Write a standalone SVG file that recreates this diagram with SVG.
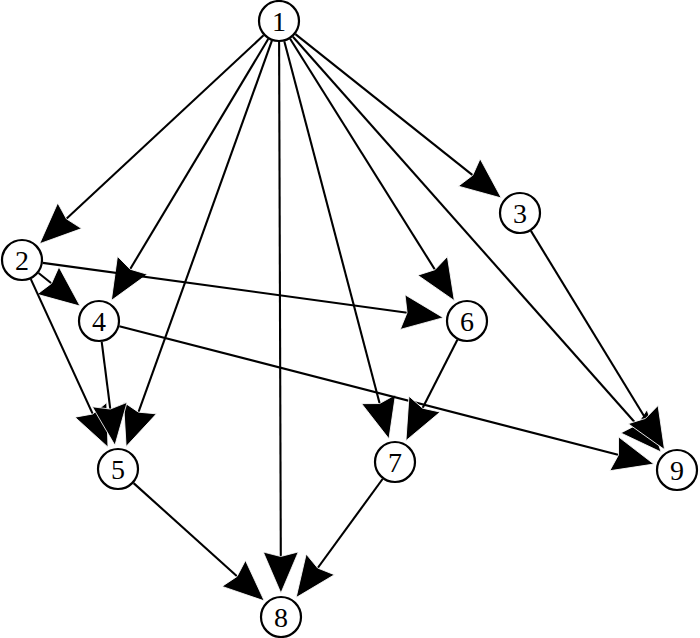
<svg xmlns="http://www.w3.org/2000/svg" width="700" height="638" viewBox="0 0 700 638">
<style>
.edge{stroke:#000;stroke-width:2.1;fill:none;marker-end:url(#ah)}
.node circle{fill:#fff;stroke:#000;stroke-width:2.2}
.node text{font-family:"Liberation Serif","Times New Roman",serif;font-size:28px;text-anchor:middle;fill:#000}
</style>
<defs>
<marker id="ah" markerUnits="userSpaceOnUse" markerWidth="44" markerHeight="40" refX="36" refY="18" orient="auto" overflow="visible">
<path d="M0,0.5 L41,18 L0,35.5 L4.5,18 Z" fill="#000" stroke="#fff" stroke-width="0.8"/>
</marker>
</defs>
<rect width="700" height="638" fill="#fff"/>
<g id="connectors">
<line class="edge" x1="263.6" y1="35.3" x2="43.3" y2="240.3"/>
<line class="edge" x1="268.2" y1="39.0" x2="113.9" y2="296.2"/>
<line class="edge" x1="271.9" y1="40.7" x2="127.8" y2="441.8"/>
<line class="edge" x1="279.1" y1="42" x2="280.9" y2="588"/>
<line class="edge" x1="284.3" y1="41.3" x2="387.7" y2="434.0"/>
<line class="edge" x1="290.1" y1="38.8" x2="451.7" y2="296.4"/>
<line class="edge" x1="292.9" y1="36.7" x2="657.8" y2="448.3"/>
<line class="edge" x1="295.4" y1="34.1" x2="497.4" y2="194.9"/>
<line class="edge" x1="38.5" y1="273.0" x2="76.2" y2="303.0"/>
<line class="edge" x1="42.8" y1="262.9" x2="438.3" y2="317.0"/>
<line class="edge" x1="30.8" y1="279.1" x2="105.9" y2="442.6"/>
<line class="edge" x1="101.7" y1="341.8" x2="114.3" y2="440.3"/>
<line class="edge" x1="119.3" y1="326.2" x2="649.0" y2="462.8"/>
<line class="edge" x1="530.9" y1="230.9" x2="661.9" y2="445.3"/>
<line class="edge" x1="457.4" y1="339.7" x2="408.2" y2="436.2"/>
<line class="edge" x1="133.6" y1="483.1" x2="260.5" y2="597.5"/>
<line class="edge" x1="382.6" y1="479.0" x2="299.1" y2="593.5"/>
</g>
<g id="n1" class="node"><circle cx="279" cy="21" r="20"/><text x="279" y="30.5">1</text></g>
<g id="n2" class="node"><circle cx="22" cy="260" r="20"/><text x="22" y="269.5">2</text></g>
<g id="n3" class="node"><circle cx="520" cy="213" r="20"/><text x="520" y="222.5">3</text></g>
<g id="n4" class="node"><circle cx="99" cy="321" r="20"/><text x="99" y="330.5">4</text></g>
<g id="n5" class="node"><circle cx="118" cy="469" r="20"/><text x="118" y="478.5">5</text></g>
<g id="n6" class="node"><circle cx="467" cy="321" r="20"/><text x="467" y="330.5">6</text></g>
<g id="n7" class="node"><circle cx="395" cy="462" r="20"/><text x="395" y="471.5">7</text></g>
<g id="n8" class="node"><circle cx="281" cy="617" r="20"/><text x="281" y="626.5">8</text></g>
<g id="n9" class="node"><circle cx="677" cy="470" r="20"/><text x="677" y="479.5">9</text></g>
</svg>
